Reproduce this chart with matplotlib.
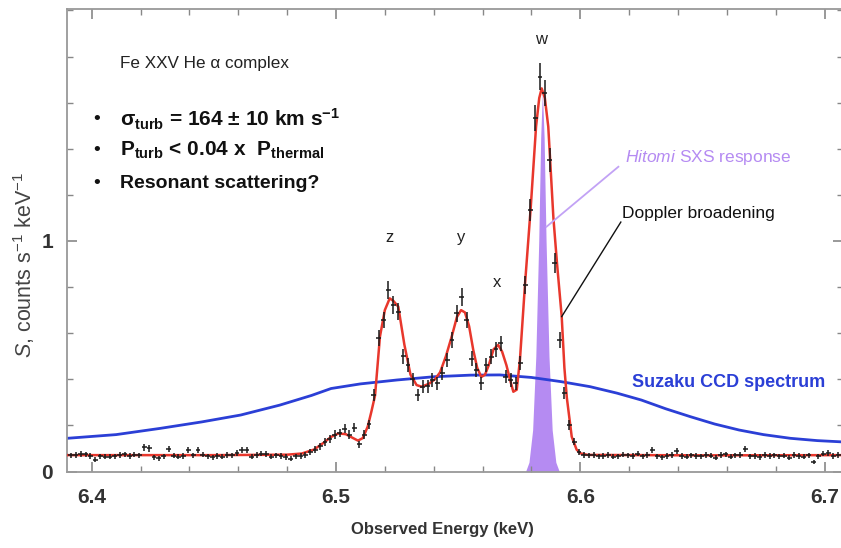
import numpy as np
import matplotlib.pyplot as plt
from matplotlib.ticker import MultipleLocator

plt.rcParams['font.family'] = ['Liberation Sans', 'DejaVu Sans']
plt.rcParams['mathtext.fontset'] = 'custom'
plt.rcParams['mathtext.rm'] = 'Liberation Sans'
plt.rcParams['mathtext.it'] = 'Liberation Sans:italic'
plt.rcParams['mathtext.bf'] = 'Liberation Sans:bold'
plt.rcParams['mathtext.default'] = 'bf'

# Hitomi SXS spectrum, 2 eV bins starting at 6.3915 keV
bin_start = 6.3915
bin_width = 0.002
counts = [
    0.070, 0.072, 0.075, 0.074, 0.068, 0.052, 0.066, 0.065, 0.064, 0.066,
    0.071, 0.074, 0.068, 0.073, 0.070, 0.105, 0.100, 0.062, 0.058, 0.066,
    0.098, 0.069, 0.064, 0.067, 0.092, 0.070, 0.094, 0.073, 0.066, 0.062,
    0.068, 0.064, 0.072, 0.070, 0.080, 0.092, 0.094, 0.065, 0.072, 0.078,
    0.076, 0.064, 0.070, 0.068, 0.063, 0.055, 0.066, 0.068, 0.072, 0.085,
    0.095, 0.110, 0.128, 0.142, 0.160, 0.168, 0.185, 0.160, 0.190, 0.118,
    0.160, 0.205, 0.330, 0.578, 0.657, 0.787, 0.722, 0.693, 0.500, 0.462,
    0.400, 0.332, 0.368, 0.370, 0.397, 0.383, 0.426, 0.484, 0.570, 0.686,
    0.758, 0.657, 0.490, 0.440, 0.383, 0.460, 0.498, 0.530, 0.556, 0.411,
    0.397, 0.383, 0.469, 0.809, 1.135, 1.532, 1.713, 1.641, 1.351, 0.903,
    0.570, 0.339, 0.202, 0.130, 0.085, 0.072, 0.070, 0.072, 0.066, 0.068,
    0.071, 0.064, 0.066, 0.073, 0.070, 0.068, 0.078, 0.066, 0.072, 0.092,
    0.066, 0.062, 0.068, 0.071, 0.090, 0.067, 0.064, 0.070, 0.068, 0.066,
    0.072, 0.069, 0.060, 0.071, 0.074, 0.064, 0.070, 0.072, 0.098, 0.066,
    0.068, 0.063, 0.072, 0.067, 0.070, 0.066, 0.069, 0.060, 0.072, 0.068,
    0.065, 0.070, 0.042, 0.066, 0.078, 0.080, 0.068, 0.072, 0.070,
]

# best-fit model (red)
model_e = [6.390, 6.420, 6.450, 6.480, 6.486, 6.491, 6.495, 6.498, 6.501, 6.504,
           6.507, 6.509, 6.511, 6.513, 6.5145, 6.516, 6.518, 6.520, 6.522, 6.5235,
           6.5255, 6.528, 6.5305, 6.533, 6.535, 6.538, 6.5405, 6.5426, 6.545, 6.5475,
           6.5495, 6.5512, 6.5528, 6.5545, 6.5562, 6.5578, 6.5595, 6.561, 6.5625, 6.5645,
           6.5664, 6.568, 6.5698, 6.5712, 6.5726, 6.574, 6.5753, 6.5774, 6.5797, 6.5819,
           6.5832, 6.5842, 6.5855, 6.5869, 6.589, 6.5905, 6.5924, 6.5935, 6.5945, 6.5965,
           6.5985, 6.600, 6.603, 6.650, 6.708]
model_s = [0.071, 0.071, 0.071, 0.073, 0.078, 0.095, 0.125, 0.150, 0.165, 0.162,
           0.145, 0.134, 0.145, 0.195, 0.260, 0.330, 0.585, 0.700, 0.751, 0.740,
           0.715, 0.550, 0.420, 0.375, 0.368, 0.380, 0.400, 0.430, 0.500, 0.590,
           0.670, 0.700, 0.690, 0.630, 0.527, 0.450, 0.410, 0.420, 0.460, 0.530,
           0.549, 0.520, 0.460, 0.400, 0.346, 0.355, 0.484, 0.816, 1.142, 1.496,
           1.620, 1.662, 1.620, 1.496, 1.100, 0.900, 0.672, 0.450, 0.320, 0.151,
           0.095, 0.079, 0.072, 0.070, 0.071]

# Suzaku CCD spectrum (blue)
suzaku_e = [6.390, 6.410, 6.428, 6.445, 6.461, 6.477, 6.490, 6.498, 6.510, 6.525,
            6.540, 6.555, 6.567, 6.580, 6.592, 6.604, 6.615, 6.625, 6.635, 6.645,
            6.655, 6.665, 6.675, 6.686, 6.697, 6.708]
suzaku_s = [0.144, 0.160, 0.187, 0.215, 0.245, 0.288, 0.330, 0.360, 0.380, 0.397,
            0.411, 0.418, 0.419, 0.408, 0.390, 0.368, 0.340, 0.310, 0.272, 0.238,
            0.206, 0.180, 0.160, 0.144, 0.134, 0.128]

# Hitomi SXS line response (purple)
resp_e = [6.5776, 6.5790, 6.5805, 6.5818, 6.5830, 6.5838, 6.5845, 6.5852, 6.5860,
          6.5872, 6.5885, 6.5900, 6.5914]
resp_s = [0.00, 0.04, 0.18, 0.50, 1.00, 1.45, 1.65, 1.45, 1.00, 0.50, 0.18, 0.04, 0.00]

line_names = ['z', 'y', 'x', 'w']
line_e = [6.5218, 6.5512, 6.5659, 6.5840]
line_y = [1.017, 1.017, 0.822, 1.872]

W, H = 841, 548
fig = plt.figure(figsize=(W / 100, H / 100), dpi=100)
ax = fig.add_axes([67 / W, (H - 471.5) / H, (843 - 67) / W, (471.5 - 9.3) / H])

ax.fill_between(resp_e, 0, resp_s, color='#b58bf2', lw=0, zorder=1)
ax.plot(suzaku_e, suzaku_s, color='#2b3fd6', lw=2.0, zorder=2)
ax.plot(model_e, model_s, color='#e8372c', lw=1.8, zorder=3)

counts = np.array(counts)
energy = bin_start + bin_width * np.arange(len(counts))
ax.errorbar(energy, counts, yerr=0.045 * np.sqrt(counts), xerr=bin_width / 2,
            fmt='none', ecolor='#1a1a1a', elinewidth=1.1, capsize=0, zorder=4)

for name, e, y in zip(line_names, line_e, line_y):
    ax.text(e, y, name, ha='center', va='center', fontsize=12, color='#222222')

ax.text(6.4115, 1.768, 'Fe XXV He α complex', fontsize=12.3, color='#222222',
        va='center', ha='left')
bullets = [r'$\sigma_{turb}$ = 164 ± 10 km s$^{-1}$',
           r'P$_{turb}$ < 0.04 x  P$_{thermal}$',
           'Resonant scattering?']
bullet_y = [1.529, 1.391, 1.251]
bullet_size = [15, 15, 14]
for txt, y, fs in zip(bullets, bullet_y, bullet_size):
    ax.text(6.4005, y, '•', fontsize=14, va='center', ha='left', color='#111111')
    ax.text(6.4115, y, txt, fontsize=fs, fontweight='bold', va='center', ha='left',
            color='#111111')

# annotations
ax.plot([6.5862, 6.6156], [1.062, 1.322], color='#c2a2f5', lw=1.3, zorder=5)
ax.text(6.6183, 1.360, r'$\mathit{Hitomi}$ SXS response', fontsize=12.5,
        color='#b58bf2', va='center', ha='left')
ax.plot([6.5924, 6.6166], [0.672, 1.082], color='#111111', lw=1.0, zorder=5)
ax.text(6.6171, 1.121, 'Doppler broadening', fontsize=12.5, color='#111111',
        va='center', ha='left')
ax.text(6.6212, 0.388, 'Suzaku CCD spectrum', fontsize=13, fontweight='bold',
        color='#2b3fd6', va='center', ha='left')

ax.set_xlim(6.3899, 6.3899 + (843 - 67) / 2443)
ax.set_ylim(0, 2.005)
ax.xaxis.set_major_locator(MultipleLocator(0.1))
ax.xaxis.set_minor_locator(MultipleLocator(0.02))
ax.yaxis.set_major_locator(MultipleLocator(1))
ax.yaxis.set_minor_locator(MultipleLocator(0.2))
ax.set_xticks([6.4, 6.5, 6.6, 6.7])
ax.set_xticklabels(['6.4', '6.5', '6.6', '6.7'])
ax.set_yticks([0, 1])
ax.set_yticklabels(['0', '1'])
ax.tick_params(which='both', direction='in', top=True, right=True, color='#888888')
ax.tick_params(which='major', length=7.5, width=1.2, labelsize=15, labelcolor='#333333')
ax.tick_params(which='minor', length=4, width=1.0)
ax.tick_params(axis='x', which='major', pad=12)
ax.tick_params(axis='y', which='major', pad=10)
for lab in ax.get_xticklabels() + ax.get_yticklabels():
    lab.set_fontweight('bold')
for sp in ax.spines.values():
    sp.set_color('#999999')
    sp.set_linewidth(1.3)

ax.set_xlabel('Observed Energy (keV)', fontsize=12, fontweight='bold',
              color='#333333')
ax.xaxis.set_label_coords((442 - 67) / 776, -(522 - 471.5) / 462.2)
ax.set_ylabel(r'$\mathit{S}$, counts s$^{\mathrm{-1}}$ keV$^{\mathrm{-1}}$', fontsize=15.5,
              color='#444444')
ax.yaxis.set_label_coords(-(67 - 37) / 776, (471.5 - 265) / 462.2)

fig.savefig('out.png', dpi=100)
